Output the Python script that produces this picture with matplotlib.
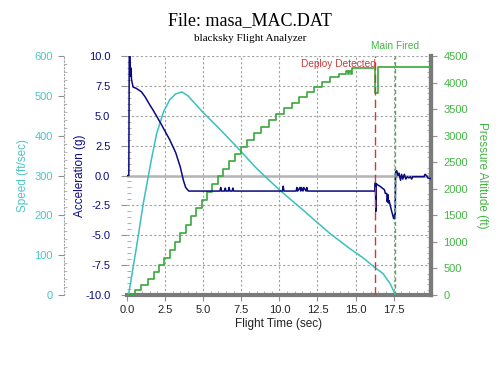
import matplotlib
matplotlib.use("Agg")
import matplotlib.pyplot as plt
from matplotlib.ticker import MultipleLocator

# ---- data ----
accel_t = [0, 0.12, 0.15, 0.2, 0.22, 0.26, 0.3, 0.4, 0.6, 0.95, 1.18, 1.5, 1.7, 2.2, 2.8, 3.2,
           3.5, 3.7, 3.85, 4.05, 6.1, 6.15, 6.2, 6.4, 6.45, 6.5, 6.65, 6.7, 6.75, 6.9, 6.95, 7.0,
           10.2, 10.25, 10.3, 11.1, 11.15, 11.2, 11.35, 11.4, 11.45, 11.55, 11.6, 11.75, 11.8,
           11.85, 16.27, 16.3, 16.33, 16.36, 16.6, 16.9, 16.95, 17.05, 17.08, 17.12, 17.16, 17.2,
           17.35, 17.5, 17.55, 17.6, 17.63, 17.7, 17.78, 17.85, 17.95, 18.02, 18.1, 18.2, 18.3,
           18.4, 18.5, 18.6, 18.68, 18.75, 19.0, 19.5, 19.55, 19.65, 19.75, 19.9]
accel_g = [0, 0, 11, 10.5, 8.3, 9.0, 8.0, 7.4, 7.3, 7.0, 6.6, 5.9, 5.5, 4.4, 3.0, 1.9,
           0.7, -0.4, -1.0, -1.3, -1.3, -1.0, -1.3, -1.3, -1.05, -1.3, -1.3, -1.0, -1.3, -1.3, -1.05, -1.3,
           -1.3, -0.9, -1.3, -1.3, -1.0, -1.3, -1.0, -1.3, -1.0, -1.3, -1.0, -1.3, -1.0,
           -1.3, -1.3, -0.6, -3.0, -0.7, -0.9, -1.2, -1.5, -1.5, -2.2, -1.6, -2.3, -2.1,
           -2.9, -3.6, -3.3, -3.6, 0.3, 0.4, 0.0, 0.2, -0.4, 0.1, -0.3, 0.1, -0.3,
           -0.1, -0.2, -0.1, -0.3, -0.1, -0.1, -0.1, 0.1, 0.0, -0.2, -0.25]

speed_t = [0, 0.1, 0.6, 1.07, 1.6, 1.95, 2.4, 2.8, 3.2, 3.6, 4.0, 5.0, 6.0, 7.2, 8.5, 10.0,
           11.5, 13.3, 14.5, 15.5, 16.2, 16.8, 17.26, 17.5, 17.6]
speed_fps = [0, 0, 115, 230, 340, 406, 460, 490, 505, 510, 500, 458, 420, 372, 318, 264,
             215, 155, 120, 93, 71, 54, 29, 10, 0]

alt_t = [0, 0.5, 0.95, 1.35, 1.75, 2.1, 2.45, 2.8, 3.15, 3.5, 3.85, 4.2, 4.55, 4.9, 5.25,
         5.6, 5.95, 6.3, 6.7, 7.1, 7.5, 7.9, 8.35, 8.8, 9.3, 9.8, 10.3, 10.8, 11.3, 11.8,
         12.3, 12.8, 13.3, 13.9, 14.4, 14.5, 14.6, 14.7, 14.75, 16.27, 16.45, 19.95]
alt_ft = [0, 90, 190, 310, 440, 570, 700, 850, 1000, 1160, 1320, 1480, 1640, 1790, 1940,
          2090, 2240, 2380, 2520, 2660, 2790, 2920, 3050, 3170, 3290, 3410, 3520, 3620, 3720, 3820,
          3920, 4010, 4100, 4170, 4210, 4170, 4210, 4170, 4280, 3800, 4290, 4290]

deploy_t = 16.3
main_t = 17.59

x_ticks = [0.0, 2.5, 5.0, 7.5, 10.0, 12.5, 15.0, 17.5]
accel_ticks = [-10.0, -7.5, -5.0, -2.5, 0.0, 2.5, 5.0, 7.5, 10.0]
speed_ticks = [0, 100, 200, 300, 400, 500, 600]
alt_ticks = [0, 500, 1000, 1500, 2000, 2500, 3000, 3500, 4000, 4500]

# ---- colours ----
C_SPEED = "#3cbfbf"
C_SPEED_T = "#4cc6c6"
C_ACC = "#0a0a80"
C_ALT = "#3aa83a"
C_ALT_T = "#45b545"
C_RED = "#c83c3c"

plt.rcParams["font.family"] = ["Liberation Sans", "DejaVu Sans"]

fig = plt.figure(figsize=(5, 3.75), dpi=100)
ax = fig.add_axes([0.254, 0.2133, 0.608, 0.6373])

XMAX = 19.95
ax.set_xlim(0, XMAX)
ax.set_ylim(-10, 10)

# grid
for xv in x_ticks[1:]:
    ax.axvline(xv, color="#a0a0a0", lw=0.8, ls=(0, (2, 2)), zorder=0)
for yv in accel_ticks:
    ax.axhline(yv, color="#a0a0a0", lw=0.8, ls=(0, (2, 2)), zorder=0)
ax.axhline(0, color="#b4b4b4", lw=1.8, zorder=1)

for s in ["top", "left"]:
    ax.spines[s].set_visible(False)
for s in ["bottom", "right"]:
    ax.spines[s].set_color("#7a7a7a")
    ax.spines[s].set_linewidth(3.0)

ax.set_xticks(x_ticks)
ax.set_xticklabels([f"{v:.1f}" for v in x_ticks])
ax.xaxis.set_minor_locator(MultipleLocator(0.5))
ax.set_yticks(accel_ticks)
ax.set_yticklabels([f"{v:.1f}" for v in accel_ticks])
ax.yaxis.set_minor_locator(MultipleLocator(0.5))
ax.tick_params(axis="x", which="major", direction="out", length=4, color="#909090",
               labelsize=8, labelcolor="#222222", pad=3)
ax.tick_params(axis="x", which="minor", direction="in", length=3, color="#a0a0a0")
ax.tick_params(axis="y", which="major", direction="out", length=4, color="#909090",
               labelsize=8, labelcolor=C_ACC, pad=8)
ax.tick_params(axis="y", which="minor", direction="in", length=3, color="#a0a0a0")
ax.set_xlabel("Flight Time (sec)", fontsize=8.5, color="#222222", labelpad=2)
ax.set_ylabel("Acceleration (g)", fontsize=8.5, color=C_ACC, labelpad=-1)

# speed axis (outer left)
axs = ax.twinx()
axs.set_ylim(0, 600)
axs.yaxis.set_ticks_position("left")
axs.yaxis.set_label_position("left")
axs.spines["left"].set_position(("axes", -0.2066))
axs.spines["left"].set_visible(True)
axs.spines["left"].set_color("#a0a0a0")
axs.spines["left"].set_linestyle((0, (1, 2)))
axs.spines["left"].set_linewidth(0.8)
for s in ["top", "right", "bottom"]:
    axs.spines[s].set_visible(False)
axs.set_yticks(speed_ticks)
axs.set_yticklabels([str(v) for v in speed_ticks])
axs.yaxis.set_minor_locator(MultipleLocator(20))
axs.tick_params(axis="y", which="major", direction="out", length=4, color="#909090",
                labelsize=8, labelcolor=C_SPEED_T, pad=4)
axs.tick_params(axis="y", which="minor", direction="in", length=2, color="#b0b0b0")
axs.set_ylabel("Speed (ft/sec)", fontsize=8.5, color=C_SPEED_T, labelpad=4)

# altitude axis (right)
axa = ax.twinx()
axa.set_ylim(0, 4500)
for s in ["top", "left", "bottom"]:
    axa.spines[s].set_visible(False)
axa.spines["right"].set_color("#7a7a7a")
axa.spines["right"].set_linewidth(3.0)
axa.set_yticks(alt_ticks)
axa.set_yticklabels([str(v) for v in alt_ticks])
axa.yaxis.set_minor_locator(MultipleLocator(100))
axa.tick_params(axis="y", which="major", direction="out", length=4, color="#909090",
                labelsize=8, labelcolor=C_ALT_T, pad=5)
axa.tick_params(axis="y", which="minor", direction="in", length=3, color="#a0a0a0")
axa.set_ylabel("Pressure Altitude (ft)", fontsize=8.5, color=C_ALT_T, rotation=-90,
               labelpad=14)

# data
axs.plot(speed_t, speed_fps, color=C_SPEED, lw=1.1, zorder=3)
axa.plot(alt_t, alt_ft, color=C_ALT, lw=1.2, drawstyle="steps-post", zorder=3)
axa.plot(accel_t, [(a + 10) / 20 * 4500 for a in accel_g], color=C_ACC, lw=1.1, zorder=4)

# events
axa.axvline(deploy_t, color=C_RED, lw=1.0, ls=(0, (6, 3)), zorder=5)
axa.axvline(main_t, color=C_ALT_T, lw=1.0, ls=(0, (3, 2)), zorder=5)
axa.text(deploy_t, 0.968, "Deploy Detected", transform=axa.get_xaxis_transform(),
         ha="right", va="center", color=C_RED, fontsize=7.3)
axa.text(main_t, 1.042, "Main Fired", transform=axa.get_xaxis_transform(),
         ha="center", va="center", color=C_ALT_T, fontsize=7.3, clip_on=False)

fig.text(0.5, 0.946, "File: masa_MAC.DAT", ha="center", va="center",
         fontsize=13, family=["Liberation Serif", "DejaVu Serif"])
fig.text(0.5, 0.898, "blacksky Flight Analyzer", ha="center", va="center",
         fontsize=8, family=["Liberation Serif", "DejaVu Serif"])

fig.savefig("out.png", dpi=100)
